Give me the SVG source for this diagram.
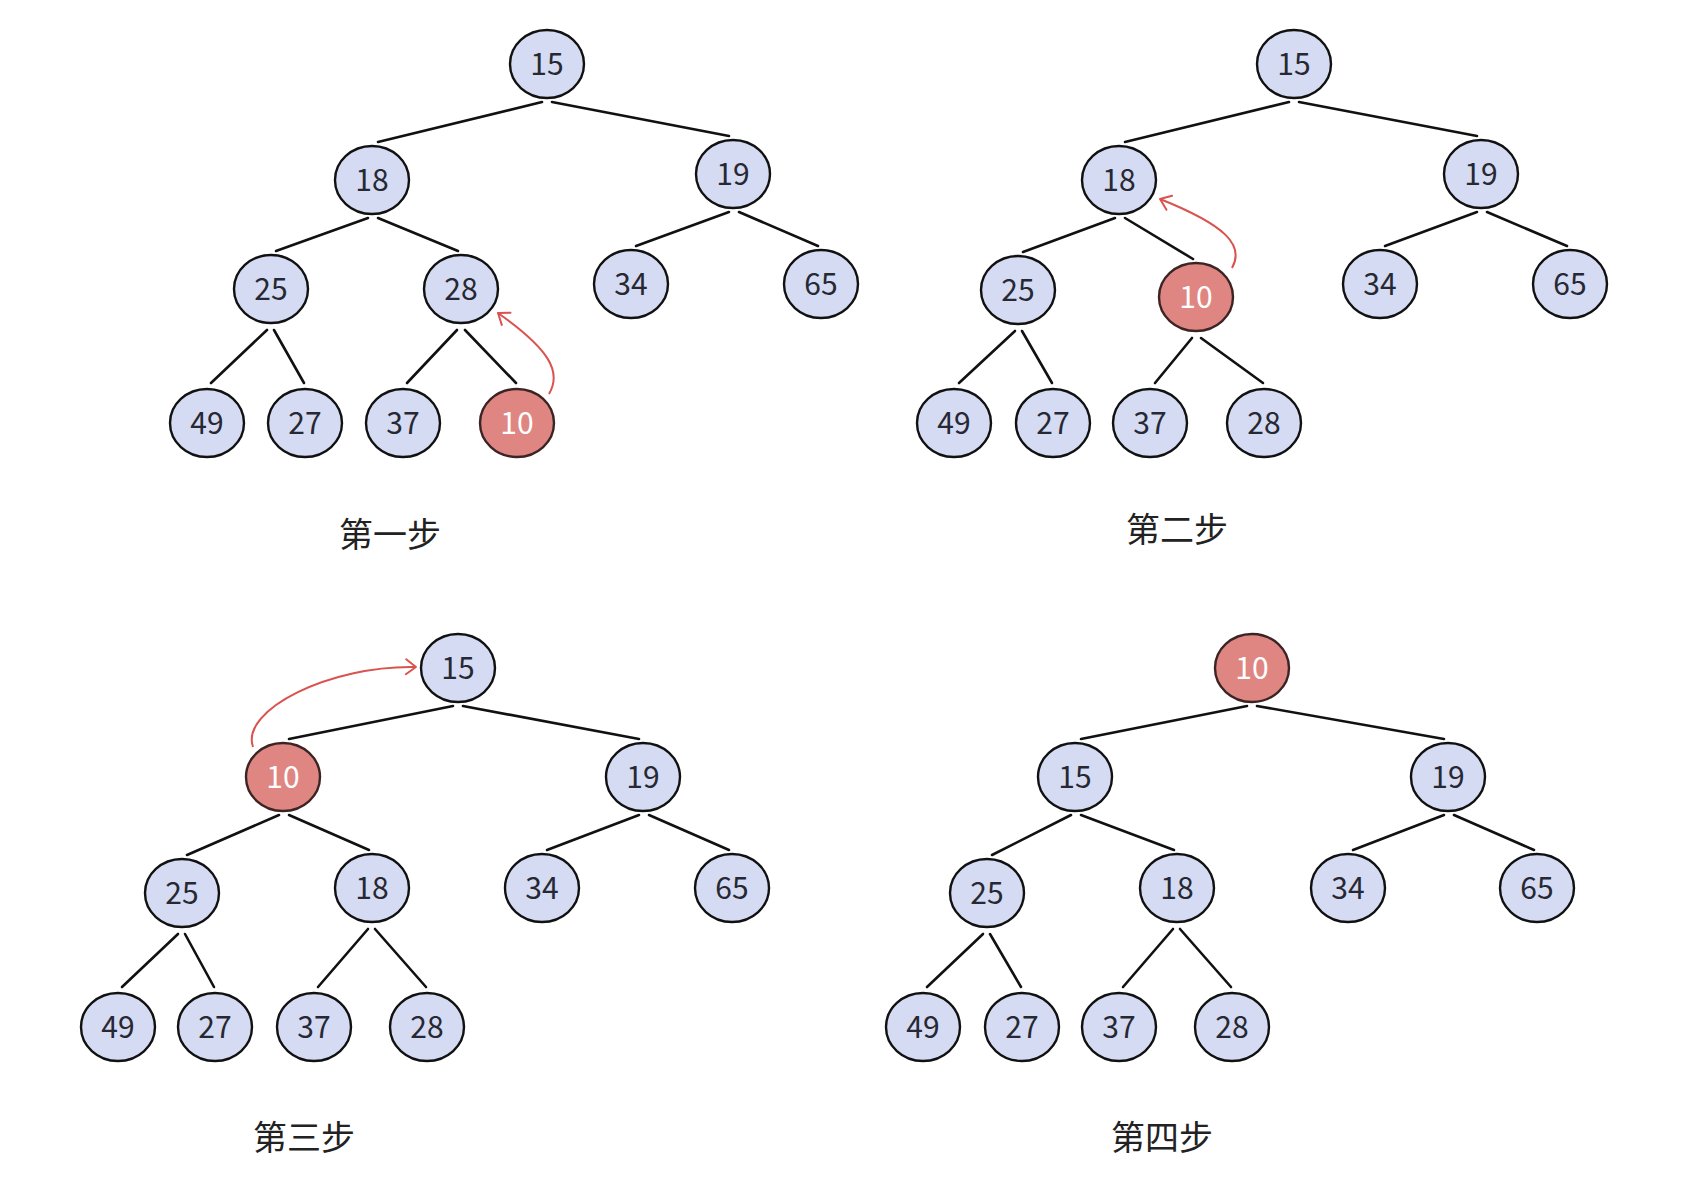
<svg xmlns="http://www.w3.org/2000/svg" width="1681" height="1182" viewBox="0 0 1681 1182">
<style>
.n ellipse{fill:#d5dbf2;stroke:#111;stroke-width:2.4}
.n.r ellipse{fill:#df8683;stroke:#3b2424}
.n text{font-family:"Noto Sans CJK SC","Noto Sans",sans-serif;font-size:30px;fill:#262833;text-anchor:middle}
.n.r text{fill:#fff}
.e line{stroke:#111;stroke-width:2.6;stroke-linecap:round}
.a{fill:none;stroke:#d9534f;stroke-width:2}
.lbl{font-family:"Noto Sans CJK SC","Noto Sans",sans-serif;font-size:34px;fill:#222;text-anchor:middle}
</style>
<defs>
<marker id="ah" markerUnits="userSpaceOnUse" viewBox="-12 -12 24 24" markerWidth="24" markerHeight="24" refX="0" refY="0" orient="auto">
<path d="M-10,-7.5 L0,0 L-10,7.5" fill="none" stroke="#d9534f" stroke-width="2" stroke-linecap="round" stroke-linejoin="round"/>
</marker>
</defs>
<rect width="1681" height="1182" fill="#fff"/>
<g id="connectors" class="e">
<!-- step 1 -->
<line x1="542" y1="102" x2="378" y2="142"/>
<line x1="552" y1="102" x2="729" y2="136"/>
<line x1="368" y1="218" x2="276" y2="251"/>
<line x1="378" y1="218" x2="458" y2="251"/>
<line x1="729" y1="212" x2="636" y2="246"/>
<line x1="739" y1="212" x2="818" y2="246"/>
<line x1="267" y1="330" x2="211" y2="383"/>
<line x1="274" y1="330" x2="304" y2="383"/>
<line x1="457" y1="330" x2="407" y2="383"/>
<line x1="465" y1="330" x2="516" y2="383"/>
<!-- step 2 -->
<line x1="1289" y1="102" x2="1125" y2="142"/>
<line x1="1299" y1="102" x2="1477" y2="136"/>
<line x1="1115" y1="218" x2="1023" y2="252"/>
<line x1="1125" y1="218" x2="1193" y2="259"/>
<line x1="1477" y1="212" x2="1385" y2="246"/>
<line x1="1487" y1="212" x2="1567" y2="246"/>
<line x1="1015" y1="331" x2="959" y2="383"/>
<line x1="1022" y1="331" x2="1052" y2="383"/>
<line x1="1192" y1="338" x2="1155" y2="383"/>
<line x1="1201" y1="338" x2="1263" y2="383"/>
<!-- step 3 -->
<line x1="453" y1="706" x2="289" y2="739"/>
<line x1="463" y1="706" x2="639" y2="739"/>
<line x1="279" y1="815" x2="187" y2="855"/>
<line x1="289" y1="815" x2="369" y2="850"/>
<line x1="639" y1="815" x2="547" y2="850"/>
<line x1="649" y1="815" x2="729" y2="850"/>
<line x1="178" y1="934" x2="122" y2="987"/>
<line x1="185" y1="934" x2="214" y2="987"/>
<line x1="368" y1="929" x2="318" y2="987"/>
<line x1="375" y1="929" x2="426" y2="987"/>
<!-- step 4 -->
<line x1="1247" y1="706" x2="1081" y2="739"/>
<line x1="1257" y1="706" x2="1444" y2="739"/>
<line x1="1071" y1="815" x2="992" y2="855"/>
<line x1="1081" y1="815" x2="1174" y2="850"/>
<line x1="1444" y1="815" x2="1353" y2="850"/>
<line x1="1454" y1="815" x2="1534" y2="850"/>
<line x1="983" y1="934" x2="927" y2="987"/>
<line x1="990" y1="934" x2="1021" y2="987"/>
<line x1="1173" y1="929" x2="1123" y2="987"/>
<line x1="1180" y1="929" x2="1231" y2="987"/>
<!-- move arrows -->
<path class="a" d="M549 394 C562 372, 550 350, 498 313" marker-end="url(#ah)"/>
<path class="a" d="M1232 268 C1245 245, 1225 225, 1160 199" marker-end="url(#ah)"/>
<path class="a" d="M253 747 C240 710, 330 665, 416 667" marker-end="url(#ah)"/>
</g>
<!-- step 1 nodes -->
<g id="s1-15" class="n"><ellipse cx="547" cy="64" rx="37" ry="34"/><text x="547" y="75">15</text></g>
<g id="s1-18" class="n"><ellipse cx="372" cy="180" rx="37" ry="34"/><text x="372" y="191">18</text></g>
<g id="s1-19" class="n"><ellipse cx="733" cy="174" rx="37" ry="34"/><text x="733" y="185">19</text></g>
<g id="s1-25" class="n"><ellipse cx="271" cy="289" rx="37" ry="34"/><text x="271" y="300">25</text></g>
<g id="s1-28" class="n"><ellipse cx="461" cy="289" rx="37" ry="34"/><text x="461" y="300">28</text></g>
<g id="s1-34" class="n"><ellipse cx="631" cy="284" rx="37" ry="34"/><text x="631" y="295">34</text></g>
<g id="s1-65" class="n"><ellipse cx="821" cy="284" rx="37" ry="34"/><text x="821" y="295">65</text></g>
<g id="s1-49" class="n"><ellipse cx="207" cy="423" rx="37" ry="34"/><text x="207" y="434">49</text></g>
<g id="s1-27" class="n"><ellipse cx="305" cy="423" rx="37" ry="34"/><text x="305" y="434">27</text></g>
<g id="s1-37" class="n"><ellipse cx="403" cy="423" rx="37" ry="34"/><text x="403" y="434">37</text></g>
<g id="s1-10" class="n r"><ellipse cx="517" cy="423" rx="37" ry="34"/><text x="517" y="434">10</text></g>
<!-- step 2 nodes -->
<g id="s2-15" class="n"><ellipse cx="1294" cy="64" rx="37" ry="34"/><text x="1294" y="75">15</text></g>
<g id="s2-18" class="n"><ellipse cx="1119" cy="180" rx="37" ry="34"/><text x="1119" y="191">18</text></g>
<g id="s2-19" class="n"><ellipse cx="1481" cy="174" rx="37" ry="34"/><text x="1481" y="185">19</text></g>
<g id="s2-25" class="n"><ellipse cx="1018" cy="290" rx="37" ry="34"/><text x="1018" y="301">25</text></g>
<g id="s2-10" class="n r"><ellipse cx="1196" cy="297" rx="37" ry="34"/><text x="1196" y="308">10</text></g>
<g id="s2-34" class="n"><ellipse cx="1380" cy="284" rx="37" ry="34"/><text x="1380" y="295">34</text></g>
<g id="s2-65" class="n"><ellipse cx="1570" cy="284" rx="37" ry="34"/><text x="1570" y="295">65</text></g>
<g id="s2-49" class="n"><ellipse cx="954" cy="423" rx="37" ry="34"/><text x="954" y="434">49</text></g>
<g id="s2-27" class="n"><ellipse cx="1053" cy="423" rx="37" ry="34"/><text x="1053" y="434">27</text></g>
<g id="s2-37" class="n"><ellipse cx="1150" cy="423" rx="37" ry="34"/><text x="1150" y="434">37</text></g>
<g id="s2-28" class="n"><ellipse cx="1264" cy="423" rx="37" ry="34"/><text x="1264" y="434">28</text></g>
<!-- step 3 nodes -->
<g id="s3-15" class="n"><ellipse cx="458" cy="668" rx="37" ry="34"/><text x="458" y="679">15</text></g>
<g id="s3-10" class="n r"><ellipse cx="283" cy="777" rx="37" ry="34"/><text x="283" y="788">10</text></g>
<g id="s3-19" class="n"><ellipse cx="643" cy="777" rx="37" ry="34"/><text x="643" y="788">19</text></g>
<g id="s3-25" class="n"><ellipse cx="182" cy="893" rx="37" ry="34"/><text x="182" y="904">25</text></g>
<g id="s3-18" class="n"><ellipse cx="372" cy="888" rx="37" ry="34"/><text x="372" y="899">18</text></g>
<g id="s3-34" class="n"><ellipse cx="542" cy="888" rx="37" ry="34"/><text x="542" y="899">34</text></g>
<g id="s3-65" class="n"><ellipse cx="732" cy="888" rx="37" ry="34"/><text x="732" y="899">65</text></g>
<g id="s3-49" class="n"><ellipse cx="118" cy="1027" rx="37" ry="34"/><text x="118" y="1038">49</text></g>
<g id="s3-27" class="n"><ellipse cx="215" cy="1027" rx="37" ry="34"/><text x="215" y="1038">27</text></g>
<g id="s3-37" class="n"><ellipse cx="314" cy="1027" rx="37" ry="34"/><text x="314" y="1038">37</text></g>
<g id="s3-28" class="n"><ellipse cx="427" cy="1027" rx="37" ry="34"/><text x="427" y="1038">28</text></g>
<!-- step 4 nodes -->
<g id="s4-10" class="n r"><ellipse cx="1252" cy="668" rx="37" ry="34"/><text x="1252" y="679">10</text></g>
<g id="s4-15" class="n"><ellipse cx="1075" cy="777" rx="37" ry="34"/><text x="1075" y="788">15</text></g>
<g id="s4-19" class="n"><ellipse cx="1448" cy="777" rx="37" ry="34"/><text x="1448" y="788">19</text></g>
<g id="s4-25" class="n"><ellipse cx="987" cy="893" rx="37" ry="34"/><text x="987" y="904">25</text></g>
<g id="s4-18" class="n"><ellipse cx="1177" cy="888" rx="37" ry="34"/><text x="1177" y="899">18</text></g>
<g id="s4-34" class="n"><ellipse cx="1348" cy="888" rx="37" ry="34"/><text x="1348" y="899">34</text></g>
<g id="s4-65" class="n"><ellipse cx="1537" cy="888" rx="37" ry="34"/><text x="1537" y="899">65</text></g>
<g id="s4-49" class="n"><ellipse cx="923" cy="1027" rx="37" ry="34"/><text x="923" y="1038">49</text></g>
<g id="s4-27" class="n"><ellipse cx="1022" cy="1027" rx="37" ry="34"/><text x="1022" y="1038">27</text></g>
<g id="s4-37" class="n"><ellipse cx="1119" cy="1027" rx="37" ry="34"/><text x="1119" y="1038">37</text></g>
<g id="s4-28" class="n"><ellipse cx="1232" cy="1027" rx="37" ry="34"/><text x="1232" y="1038">28</text></g>
<!-- labels -->
<g id="labels">
<text class="lbl" x="390" y="547">第一步</text>
<text class="lbl" x="1177" y="542">第二步</text>
<text class="lbl" x="304" y="1150">第三步</text>
<text class="lbl" x="1162" y="1150">第四步</text>
</g>
</svg>
